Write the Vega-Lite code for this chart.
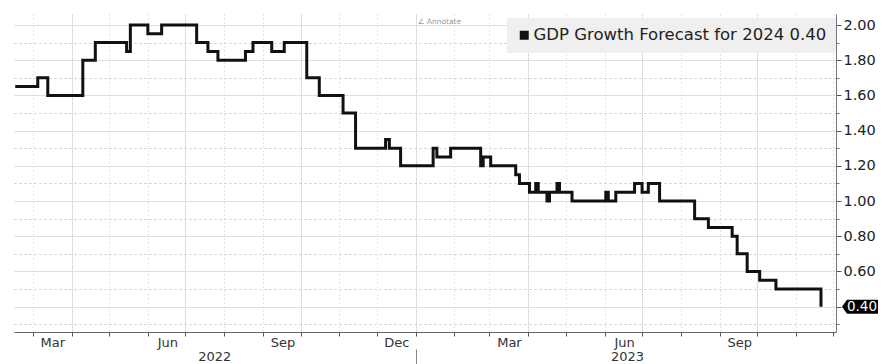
{
  "$schema": "https://vega.github.io/schema/vega-lite/v6.json",
  "width": 822,
  "height": 318,
  "autosize": {"type": "none"},
  "padding": {"left": 14, "top": 14, "right": 52, "bottom": 32},
  "background": "white",
  "config": {
    "view": {"stroke": null},
    "font": "DejaVu Sans",
    "axis": {"labelFont": "DejaVu Sans", "labelColor": "#333", "title": null}
  },
  "datasets": {
    "gdp": [
      {"date": "2022-02-15", "value": 1.65},
      {"date": "2022-03-05", "value": 1.70},
      {"date": "2022-03-13", "value": 1.60},
      {"date": "2022-04-10", "value": 1.80},
      {"date": "2022-04-20", "value": 1.90},
      {"date": "2022-05-15", "value": 1.85},
      {"date": "2022-05-18", "value": 2.00},
      {"date": "2022-06-01", "value": 1.95},
      {"date": "2022-06-12", "value": 2.00},
      {"date": "2022-07-10", "value": 1.90},
      {"date": "2022-07-19", "value": 1.85},
      {"date": "2022-07-27", "value": 1.80},
      {"date": "2022-08-18", "value": 1.85},
      {"date": "2022-08-24", "value": 1.90},
      {"date": "2022-09-08", "value": 1.85},
      {"date": "2022-09-18", "value": 1.90},
      {"date": "2022-10-06", "value": 1.70},
      {"date": "2022-10-16", "value": 1.60},
      {"date": "2022-11-04", "value": 1.50},
      {"date": "2022-11-14", "value": 1.30},
      {"date": "2022-12-08", "value": 1.35},
      {"date": "2022-12-11", "value": 1.30},
      {"date": "2022-12-20", "value": 1.20},
      {"date": "2023-01-15", "value": 1.30},
      {"date": "2023-01-18", "value": 1.25},
      {"date": "2023-01-29", "value": 1.30},
      {"date": "2023-02-22", "value": 1.20},
      {"date": "2023-02-24", "value": 1.25},
      {"date": "2023-03-02", "value": 1.20},
      {"date": "2023-03-22", "value": 1.15},
      {"date": "2023-03-25", "value": 1.10},
      {"date": "2023-04-02", "value": 1.05},
      {"date": "2023-04-07", "value": 1.10},
      {"date": "2023-04-09", "value": 1.05},
      {"date": "2023-04-16", "value": 1.00},
      {"date": "2023-04-18", "value": 1.05},
      {"date": "2023-04-24", "value": 1.10},
      {"date": "2023-04-26", "value": 1.05},
      {"date": "2023-05-06", "value": 1.00},
      {"date": "2023-06-02", "value": 1.05},
      {"date": "2023-06-04", "value": 1.00},
      {"date": "2023-06-10", "value": 1.05},
      {"date": "2023-06-25", "value": 1.10},
      {"date": "2023-07-01", "value": 1.05},
      {"date": "2023-07-06", "value": 1.10},
      {"date": "2023-07-15", "value": 1.00},
      {"date": "2023-08-12", "value": 0.90},
      {"date": "2023-08-23", "value": 0.85},
      {"date": "2023-09-11", "value": 0.80},
      {"date": "2023-09-15", "value": 0.70},
      {"date": "2023-09-23", "value": 0.60},
      {"date": "2023-10-03", "value": 0.55},
      {"date": "2023-10-16", "value": 0.50},
      {"date": "2023-11-21", "value": 0.40}
    ],
    "last": [{"date": "2023-11-21", "value": 0.40}]
  },
  "resolve": {"axis": {"x": "independent", "y": "independent"}},
  "layer": [
    {
      "data": {"name": "gdp"},
      "mark": {"type": "point", "opacity": 0},
      "encoding": {
        "x": {
          "field": "date", "type": "temporal",
          "scale": {"type": "utc", "domain": [{"year": 2022, "month": 2, "date": 14, "utc": true}, {"year": 2023, "month": 12, "date": 3, "utc": true}]},
          "axis": {
            "orient": "bottom",
            "values": [
              {"year": 2022, "month": 4, "date": 1, "utc": true},
              {"year": 2022, "month": 7, "date": 1, "utc": true},
              {"year": 2022, "month": 10, "date": 1, "utc": true},
              {"year": 2023, "month": 1, "date": 1, "utc": true},
              {"year": 2023, "month": 4, "date": 1, "utc": true},
              {"year": 2023, "month": 7, "date": 1, "utc": true},
              {"year": 2023, "month": 10, "date": 1, "utc": true}
            ],
            "grid": true, "gridColor": "#e4e4e4", "gridWidth": 1,
            "ticks": false, "labels": false, "domain": false
          }
        },
        "y": {
          "field": "value", "type": "quantitative",
          "scale": {"domain": [0.256, 2.0625], "nice": false, "zero": false},
          "axis": {
            "orient": "right",
            "values": [0.3, 0.5, 0.7, 0.9, 1.1, 1.3, 1.5, 1.7, 1.9],
            "grid": true, "gridColor": "#c8c8c8", "gridDash": [2, 3],
            "tickSize": 3, "tickColor": "#777", "labels": false, "domain": false
          }
        }
      }
    },
    {
      "data": {"name": "gdp"},
      "mark": {"type": "line", "interpolate": "step-after", "strokeWidth": 3, "color": "#111"},
      "encoding": {
        "x": {
          "field": "date", "type": "temporal",
          "scale": {"type": "utc", "domain": [{"year": 2022, "month": 2, "date": 14, "utc": true}, {"year": 2023, "month": 12, "date": 3, "utc": true}]},
          "axis": {
            "orient": "bottom",
            "values": [
              {"year": 2022, "month": 3, "date": 1, "utc": true},
              {"year": 2022, "month": 4, "date": 1, "utc": true},
              {"year": 2022, "month": 5, "date": 1, "utc": true},
              {"year": 2022, "month": 6, "date": 1, "utc": true},
              {"year": 2022, "month": 7, "date": 1, "utc": true},
              {"year": 2022, "month": 8, "date": 1, "utc": true},
              {"year": 2022, "month": 9, "date": 1, "utc": true},
              {"year": 2022, "month": 10, "date": 1, "utc": true},
              {"year": 2022, "month": 11, "date": 1, "utc": true},
              {"year": 2022, "month": 12, "date": 1, "utc": true},
              {"year": 2023, "month": 1, "date": 1, "utc": true},
              {"year": 2023, "month": 2, "date": 1, "utc": true},
              {"year": 2023, "month": 3, "date": 1, "utc": true},
              {"year": 2023, "month": 4, "date": 1, "utc": true},
              {"year": 2023, "month": 5, "date": 1, "utc": true},
              {"year": 2023, "month": 6, "date": 1, "utc": true},
              {"year": 2023, "month": 7, "date": 1, "utc": true},
              {"year": 2023, "month": 8, "date": 1, "utc": true},
              {"year": 2023, "month": 9, "date": 1, "utc": true},
              {"year": 2023, "month": 10, "date": 1, "utc": true},
              {"year": 2023, "month": 11, "date": 1, "utc": true},
              {"year": 2023, "month": 12, "date": 1, "utc": true}
            ],
            "grid": true, "gridColor": "#cccccc", "gridDash": [1, 3],
            "tickSize": 4, "tickColor": "#555", "domainColor": "#666",
            "labelFontSize": 13, "labelPadding": 0, "labelOffset": 19.5,
            "labelAlign": "center", "labelBaseline": "top",
            "labelOverlap": false, "labelFlush": false,
            "labelExpr": "(indexof([2,5,8,11], utcmonth(datum.value)) >= 0 && !(utcyear(datum.value) == 2023 && utcmonth(datum.value) == 11)) ? utcFormat(datum.value, '%b') : ''"
          }
        },
        "y": {
          "field": "value", "type": "quantitative",
          "scale": {"domain": [0.256, 2.0625], "nice": false, "zero": false},
          "axis": {
            "orient": "right",
            "values": [0.4, 0.6, 0.8, 1.0, 1.2, 1.4, 1.6, 1.8, 2.0],
            "format": ".2f",
            "grid": true, "gridColor": "#e0e0e0",
            "tickSize": 5, "tickColor": "#555", "domainColor": "#777",
            "labelFontSize": 14.5, "labelPadding": 2, "labelColor": "#222",
            "labelExpr": "datum.value < 0.5 ? '' : datum.label"
          }
        },
        "color": {
          "datum": "GDP Growth Forecast for 2024",
          "scale": {"range": ["#111111"]},
          "legend": {
            "orient": "none", "legendX": 493, "legendY": 4,
            "fillColor": "#efefef", "padding": 9, "title": null,
            "symbolType": "square", "symbolSize": 81,
            "symbolFillColor": "#111111", "symbolStrokeWidth": 0,
            "labelFontSize": 16.5, "labelFont": "DejaVu Sans", "labelColor": "#222",
            "labelLimit": 400, "labelOffset": 1,
            "labelExpr": "datum.label + ' 0.40'",
            "encode": {"symbols": {"update": {"fill": {"value": "#111111"}, "strokeWidth": {"value": 0}}}}
          }
        }
      }
    },
    {
      "data": {"name": "gdp"},
      "mark": {"type": "point", "opacity": 0},
      "encoding": {
        "x": {
          "field": "date", "type": "temporal",
          "scale": {"type": "utc", "domain": [{"year": 2022, "month": 2, "date": 14, "utc": true}, {"year": 2023, "month": 12, "date": 3, "utc": true}]},
          "axis": {
            "orient": "bottom",
            "values": [
              {"year": 2022, "month": 7, "date": 24, "utc": true},
              {"year": 2023, "month": 6, "date": 19, "utc": true}
            ],
            "labelExpr": "utcFormat(datum.value, '%Y')",
            "ticks": false, "tickSize": 0, "domain": false, "grid": false,
            "labelPadding": 18, "labelFontSize": 13, "labelBaseline": "top",
            "labelAlign": "center", "labelOverlap": false, "labelFlush": false
          }
        }
      }
    },
    {
      "data": {"name": "gdp"},
      "mark": {"type": "point", "opacity": 0},
      "encoding": {
        "x": {
          "field": "date", "type": "temporal",
          "scale": {"type": "utc", "domain": [{"year": 2022, "month": 2, "date": 14, "utc": true}, {"year": 2023, "month": 12, "date": 3, "utc": true}]},
          "axis": {
            "orient": "bottom", "offset": 17,
            "values": [{"year": 2023, "month": 1, "date": 1, "utc": true}],
            "labels": false, "domain": false, "grid": false,
            "tickSize": 15, "tickColor": "#888"
          }
        }
      }
    },
    {
      "data": {"name": "last"},
      "mark": {"type": "point", "shape": "M-1,0L-0.72,-0.39L1,-0.39L1,0.39L-0.72,0.39Z", "size": 1296, "filled": true, "color": "#000000", "opacity": 1, "xOffset": 39},
      "encoding": {
        "x": {"field": "date", "type": "temporal", "axis": null,
          "scale": {"type": "utc", "domain": [{"year": 2022, "month": 2, "date": 14, "utc": true}, {"year": 2023, "month": 12, "date": 3, "utc": true}]}},
        "y": {"field": "value", "type": "quantitative", "axis": null,
          "scale": {"domain": [0.256, 2.0625], "nice": false, "zero": false}}
      }
    },
    {
      "data": {"name": "last"},
      "mark": {"type": "text", "color": "#ffffff", "fontSize": 13.5, "font": "DejaVu Sans", "align": "center", "baseline": "middle", "dx": 41},
      "encoding": {
        "x": {"field": "date", "type": "temporal", "axis": null,
          "scale": {"type": "utc", "domain": [{"year": 2022, "month": 2, "date": 14, "utc": true}, {"year": 2023, "month": 12, "date": 3, "utc": true}]}},
        "y": {"field": "value", "type": "quantitative", "axis": null,
          "scale": {"domain": [0.256, 2.0625], "nice": false, "zero": false}},
        "text": {"field": "value", "type": "quantitative", "format": ".2f"}
      }
    },
    {
      "data": {"values": [{"label": "∠ Annotate"}]},
      "mark": {"type": "text", "color": "#999999", "fontSize": 7.5, "font": "DejaVu Sans", "align": "center", "baseline": "middle"},
      "encoding": {
        "x": {"datum": {"year": 2023, "month": 1, "date": 20, "utc": true}, "type": "temporal", "axis": null,
          "scale": {"type": "utc", "domain": [{"year": 2022, "month": 2, "date": 14, "utc": true}, {"year": 2023, "month": 12, "date": 3, "utc": true}]}},
        "y": {"datum": 2.017, "type": "quantitative", "axis": null,
          "scale": {"domain": [0.256, 2.0625], "nice": false, "zero": false}},
        "text": {"field": "label", "type": "nominal"}
      }
    }
  ]
}
